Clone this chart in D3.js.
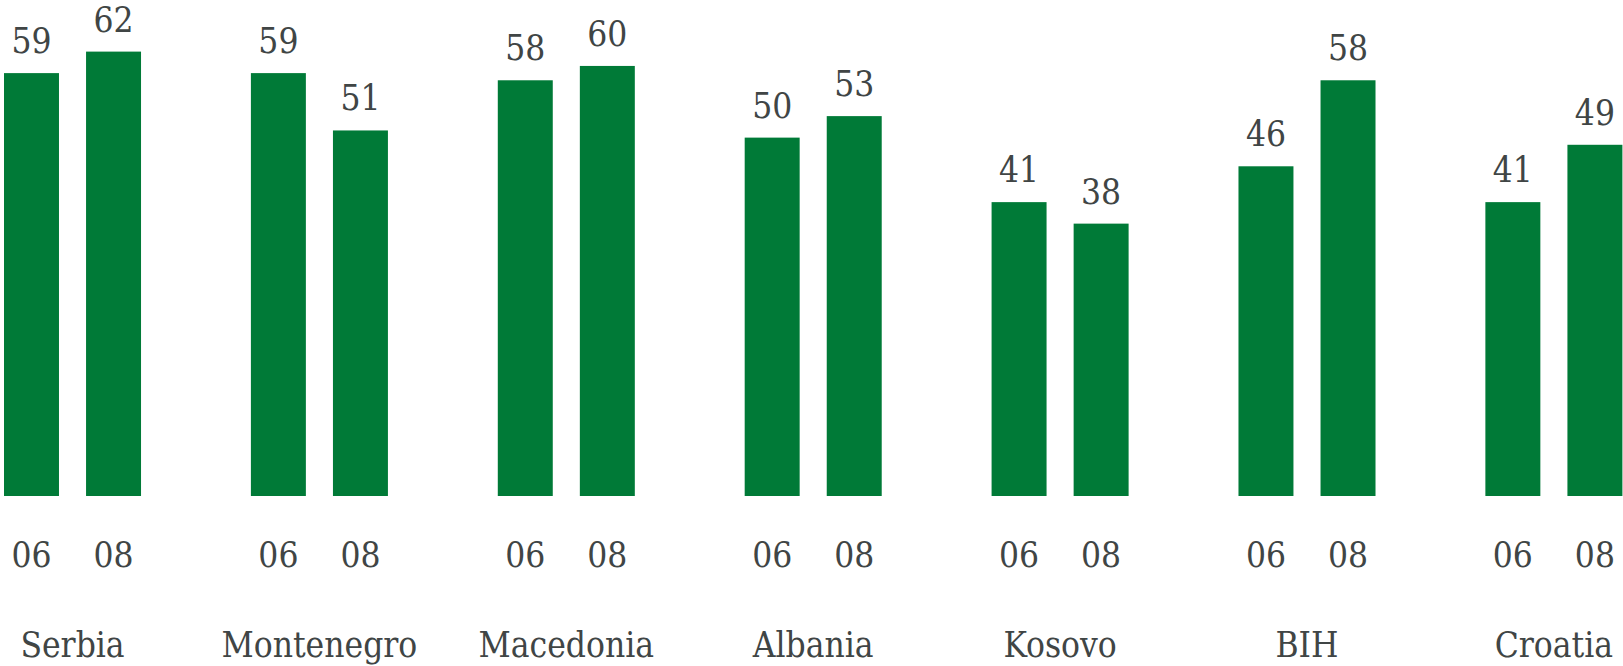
<!DOCTYPE html>
<html>
<head>
<meta charset="utf-8">
<script src="https://cdn.jsdelivr.net/npm/d3@7"></script>
<style>
  html, body { margin: 0; padding: 0; background: #fff; }
  text { font-family: "DejaVu Serif Condensed", "DejaVu Serif", serif; font-stretch: condensed; fill: #404545; }
</style>
</head>
<body>
<svg id="viz"></svg>
<script>
const countries = ["Serbia", "Montenegro", "Macedonia", "Albania", "Kosovo", "BIH", "Croatia"];
const years = ["06", "08"];
const values06 = [59, 59, 58, 50, 41, 46, 41];
const values08 = [62, 51, 60, 53, 38, 58, 49];

const width = 1623, height = 666;
const svg = d3.select("#viz").attr("width", width).attr("height", height);

const rows = countries.map((c, i) => ({ country: c, vals: [
  { year: "06", value: values06[i] },
  { year: "08", value: values08[i] }
]}));

// outer band for countries, inner band for the two years
const x = d3.scaleBand().domain(countries).range([4, 1622.4]).paddingInner(0.445).paddingOuter(0);
const xi = d3.scaleBand().domain(years).range([0, x.bandwidth()]).paddingInner(0.33).paddingOuter(0);
const baseline = 496;
const y = d3.scaleLinear().domain([0, 69.2]).range([baseline, 0]);

const groups = svg.selectAll("g.grp")
  .data(rows)
  .enter()
  .append("g")
  .attr("class", "grp")
  .attr("transform", d => `translate(${x(d.country)},0)`);

groups.selectAll("rect")
  .data(d => d.vals)
  .enter()
  .append("rect")
  .attr("x", d => xi(d.year))
  .attr("y", d => y(d.value))
  .attr("width", xi.bandwidth())
  .attr("height", d => baseline - y(d.value))
  .attr("fill", "#007A37");

// value labels above the bars
groups.selectAll("text.val")
  .data(d => d.vals)
  .enter()
  .append("text")
  .attr("class", "val")
  .attr("x", d => xi(d.year) + xi.bandwidth() / 2)
  .attr("y", d => y(d.value) - 20)
  .attr("text-anchor", "middle")
  .style("font-size", "35px")
  .text(d => d.value);

// year labels under the bars
groups.selectAll("text.yr")
  .data(d => d.vals)
  .enter()
  .append("text")
  .attr("class", "yr")
  .attr("x", d => xi(d.year) + xi.bandwidth() / 2)
  .attr("y", 566.5)
  .attr("text-anchor", "middle")
  .style("font-size", "35px")
  .text(d => d.year);

// country names
groups.append("text")
  .attr("x", x.bandwidth() / 2)
  .attr("y", 657)
  .attr("text-anchor", "middle")
  .style("font-size", "35px")
  .text(d => d.country);
</script>
</body>
</html>
